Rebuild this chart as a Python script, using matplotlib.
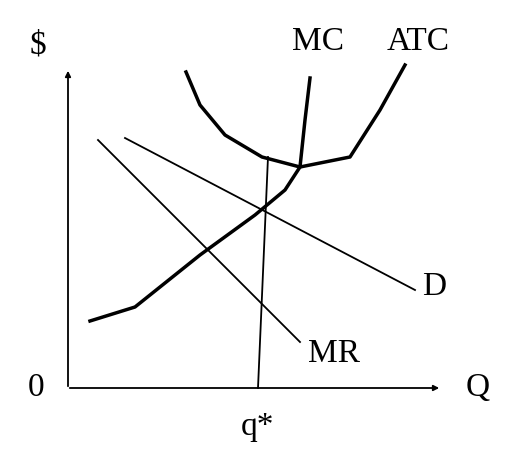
import matplotlib
matplotlib.use("Agg")
import matplotlib.pyplot as plt

mc_x = [90, 135, 200, 255, 285, 300, 305, 310]
mc_y = [321, 307, 255, 215, 190, 167, 120, 78]
atc_x = [186, 200, 225, 262, 300, 350, 380, 405]
atc_y = [72, 105, 135, 157, 167, 157, 110, 65]
d_x = [125, 415]
d_y = [138, 290]
mr_x = [98, 300]
mr_y = [140, 342]
q_x = [258, 268]
q_y = [388, 157]

fig = plt.figure(figsize=(5.26, 4.58), dpi=100)
ax = fig.add_axes([0, 0, 1, 1])
ax.set_xlim(0, 526)
ax.set_ylim(458, 0)
ax.axis("off")

ax.plot(mc_x, mc_y, color="black", lw=2.5)
ax.plot(atc_x, atc_y, color="black", lw=2.5)
ax.plot(d_x, d_y, color="black", lw=1.3)
ax.plot(mr_x, mr_y, color="black", lw=1.3)
ax.plot(q_x, q_y, color="black", lw=1.3)

arrow = dict(arrowstyle="-|>", color="black", lw=1.3, mutation_scale=8)
ax.annotate("", xy=(68, 68), xytext=(68, 389), arrowprops=arrow)
ax.annotate("", xy=(442, 388), xytext=(67, 388), arrowprops=arrow)

fs = 24
font = dict(family=["Liberation Serif", "DejaVu Serif"], fontsize=fs, color="black",
            ha="center", va="center")
ax.text(38, 45, "$", **font)
ax.text(318, 42, "MC", **font)
ax.text(418, 42, "ATC", **font)
ax.text(434, 287, "D", **font)
ax.text(334, 354, "MR", **font)
ax.text(36, 388, "0", **font)
ax.text(478, 388, "Q", **font)
ax.text(257, 427, "q*", **font)

fig.savefig("out.png", dpi=100)
